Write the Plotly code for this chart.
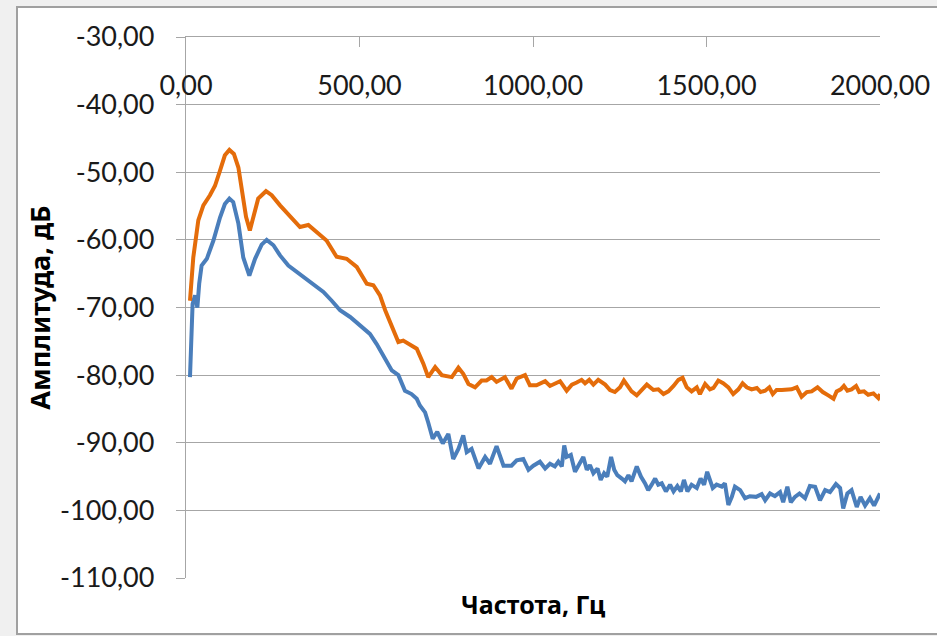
import plotly.graph_objects as go

# ---- data ----
freq_orange = [11.5, 21, 35.5, 50, 69, 83.6, 98, 112, 125, 138, 151, 160, 173, 184, 194, 208,
               230.5, 247, 271, 295, 314, 328.5, 352.5, 376.6, 405, 434, 463, 492,
               521, 540, 559, 574, 593, 612, 626, 646, 665, 684, 698, 718, 737, 766, 785, 799,
               814, 833, 852, 866, 881, 895, 919, 938, 953, 977, 991, 1010,
               1020, 1035, 1049, 1063, 1078, 1097, 1112, 1126, 1140, 1150, 1162, 1174, 1188,
               1208, 1222, 1236, 1251, 1262, 1275, 1284, 1299, 1313, 1328, 1347, 1361, 1376,
               1390, 1405, 1419, 1431, 1443, 1457, 1472, 1481, 1496,
               1510, 1520, 1534, 1548, 1563, 1577, 1592, 1604, 1616, 1630, 1645, 1656, 1669,
               1681, 1691, 1702, 1717, 1731, 1745, 1760, 1774, 1789, 1803, 1820, 1835, 1851,
               1866, 1875, 1887, 1896, 1906, 1918, 1931, 1940, 1954, 1966, 1981, 1995, 2000]
amp_orange = [-69.0, -62.6, -57.1, -54.9, -53.4, -52.0, -49.75, -47.5, -46.7, -47.3, -49.3, -52.2,
              -56.6, -58.6, -56.6, -53.9, -52.8, -53.4, -54.9, -56.2, -57.4, -58.1, -57.8, -58.9,
              -60.1, -62.5, -62.8, -64.0,
              -66.5, -66.7, -68.2, -70.4, -72.9, -75.1, -74.9, -75.6, -76.1, -78.3, -80.3, -78.8,
              -80.0, -80.3, -78.9, -79.8, -81.3, -81.8, -80.8, -80.8, -80.3, -81.0, -80.3, -82.0,
              -80.5, -80.0, -81.5, -81.5,
              -81.2, -80.9, -81.6, -81.3, -80.9, -82.3, -81.4, -81.1, -80.7, -81.2, -80.7, -81.4,
              -80.7, -81.4, -82.2, -82.5, -81.8, -80.8, -81.8, -82.4, -83.0, -82.2, -81.4, -82.2,
              -82.1, -82.8, -82.4, -81.6, -80.7, -80.4, -81.8, -82.4, -81.8, -82.8, -81.3,
              -82.1, -81.9, -80.8, -81.2, -81.8, -82.8, -82.1, -81.2, -81.8, -82.1, -81.9, -82.5,
              -82.3, -81.8, -82.8, -82.2, -82.2, -82.1, -82.1, -81.8, -83.2, -82.5, -82.4, -81.8,
              -82.5, -83.0, -83.5, -82.4, -82.1, -81.6, -82.3, -82.1, -81.6, -82.5, -82.4, -82.9,
              -82.7, -83.4, -82.8]

freq_blue = [11.5, 19, 26, 32.7, 38, 45, 60, 79, 98, 112, 125, 136, 151, 165, 182.5, 199, 218,
             232.5, 252, 271, 295, 314, 338, 367, 396, 420, 444, 473, 492,
             530, 549.5, 569, 593, 612, 631, 650, 665, 674, 689, 698, 711, 724, 740, 756, 770,
             785, 799, 809, 823, 843, 862, 876, 895, 915, 938, 953, 972, 987, 1001,
             1020, 1035, 1049, 1063, 1073, 1083, 1090, 1097, 1109, 1121, 1134, 1145, 1155, 1164,
             1174, 1186, 1195, 1205, 1214, 1225, 1234, 1243, 1256, 1265, 1275, 1284, 1299, 1311,
             1323, 1332, 1342, 1352, 1361, 1371, 1383, 1395, 1405, 1416, 1426, 1435, 1445, 1457,
             1472, 1483, 1493, 1502,
             1518, 1529, 1544, 1553, 1563, 1573, 1582, 1597, 1611, 1625, 1643, 1659, 1669, 1683,
             1697, 1712, 1721, 1733, 1743, 1755, 1768, 1784, 1798, 1813, 1827, 1842, 1856, 1873,
             1885, 1894, 1906, 1918, 1933, 1944, 1957, 1971, 1983, 2000]
amp_blue = [-80.3, -69.5, -68.2, -70.0, -66.5, -63.8, -62.8, -60.1, -56.7, -54.7, -53.9, -54.4,
            -57.6, -62.6, -65.3, -62.8, -60.7, -60.0, -60.8, -62.3, -63.8, -64.5, -65.5, -66.6,
            -67.7, -69.0, -70.4, -71.4, -72.2,
            -73.9, -75.4, -77.1, -79.3, -80.0, -82.3, -82.8, -83.5, -84.5, -85.5, -87.0, -89.4,
            -88.4, -90.1, -88.7, -92.4, -90.9, -88.9, -91.4, -90.9, -93.8, -92.1, -93.1, -90.5,
            -93.4, -93.4, -92.6, -92.4, -94.0, -93.4,
            -92.8, -93.8, -93.1, -93.5, -92.8, -93.5, -90.4, -92.1, -91.8, -94.3, -93.1, -92.1,
            -94.0, -93.3, -94.5, -93.8, -95.5, -94.5, -95.0, -92.1, -94.0, -94.8, -95.3, -95.7,
            -94.8, -95.7, -93.5, -95.0, -96.0, -97.0, -96.2, -95.3, -96.2, -96.0, -97.2, -96.2,
            -97.2, -96.4, -97.2, -95.5, -97.2, -96.2, -96.7, -95.3, -96.2, -94.3,
            -96.7, -96.2, -96.5, -96.0, -99.2, -98.0, -96.5, -97.0, -98.2, -97.9, -98.0, -97.6,
            -98.5, -97.5, -97.9, -97.3, -98.8, -96.5, -98.8, -98.0, -97.5, -98.2, -96.4, -96.5,
            -98.5, -97.0, -97.3, -96.1, -96.7, -99.7, -97.5, -97.0, -99.5, -98.0, -99.3, -98.2,
            -99.3, -97.5]

x_tickvals = [0, 500, 1000, 1500, 2000]
x_ticktext = ["0,00", "500,00", "1000,00", "1500,00", "2000,00"]
y_tickvals = [-30, -40, -50, -60, -70, -80, -90, -100, -110]
y_ticktext = ["-30,00", "-40,00", "-50,00", "-60,00", "-70,00", "-80,00", "-90,00",
              "-100,00", "-110,00"]

x_title = "Частота, Гц"
y_title = "Амплитуда, дБ"

# ---- styling ----
BLUE = "#4A7EBB"
ORANGE = "#E46C0A"
GRID = "#A6A6A6"
FONT = "Lato, 'Noto Sans', sans-serif"
TITLE_FONT = "'Noto Sans', 'Open Sans', sans-serif"

W, H = 937, 636
L, R, T, B = 186, 57, 37, 58
pw, ph = W - L - R, H - T - B

fig = go.Figure()
fig.add_trace(go.Scatter(x=freq_blue, y=amp_blue, mode="lines", xaxis="x", yaxis="y",
                         line=dict(color=BLUE, width=4), showlegend=False))
fig.add_trace(go.Scatter(x=freq_orange, y=amp_orange, mode="lines", xaxis="x2", yaxis="y",
                         line=dict(color=ORANGE, width=4), showlegend=False))

def px2paper_x(px):
    return (px - L) / pw

def px2paper_y(py):
    return (H - B - py) / ph

fig.update_layout(
    width=W, height=H, autosize=False,
    margin=dict(l=L, r=R, t=T, b=B, pad=0),
    paper_bgcolor="#F0F0F0",
    plot_bgcolor="white",
    font=dict(family=FONT, color="#1a1a1a"),
    showlegend=False,
    xaxis=dict(
        range=[0, 2000], side="top", automargin=False,
        showline=True, linecolor=GRID, linewidth=1.3,
        ticks="inside", ticklen=10, tickcolor=GRID, tickwidth=1.3,
        tickvals=x_tickvals, ticktext=x_ticktext,
        ticklabelposition="inside", ticklabeloverflow="allow",
        ticklabelstandoff=31,
        tickfont=dict(size=27, color="#1a1a1a"),
        showgrid=False, zeroline=False,
    ),
    xaxis2=dict(
        overlaying="x", matches="x", side="bottom", anchor="y", automargin=False,
        showline=False, ticks="", showgrid=False, zeroline=False, showticklabels=False,
        title=dict(text=x_title, standoff=18,
                   font=dict(family=TITLE_FONT, size=25, color="black", weight="bold")),
    ),
    yaxis=dict(
        range=[-110, -30], tickvals=y_tickvals, ticktext=y_ticktext, automargin=False,
        showline=True, linecolor=GRID, linewidth=1.3,
        ticks="outside", ticklen=9, tickcolor=GRID, tickwidth=1.3,
        showgrid=True, gridcolor=GRID, gridwidth=1.3, zeroline=False,
        ticklabelstandoff=16,
        tickfont=dict(size=27, color="#1a1a1a"),
        title=dict(text=y_title, standoff=1,
                   font=dict(family=TITLE_FONT, size=27, color="black", weight="bold")),
    ),
    shapes=[dict(type="rect", xref="paper", yref="paper", layer="below",
                 x0=px2paper_x(17), x1=px2paper_x(945),
                 y0=px2paper_y(634), y1=px2paper_y(7),
                 fillcolor="white", line=dict(color="#A0A0A0", width=2))],
)

fig.write_html("out.html")
